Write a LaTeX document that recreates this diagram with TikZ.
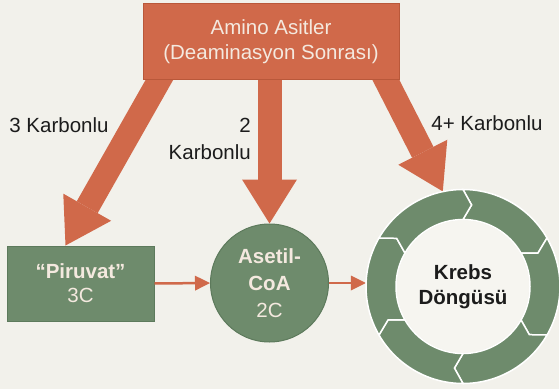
\documentclass[tikz,border=0pt]{standalone}
\usepackage{fontspec}
\setmainfont{Liberation Sans}
\usetikzlibrary{positioning,arrows.meta,calc,backgrounds}

% COLORS
\definecolor{bgcolor}{HTML}{F2F1EB}
\definecolor{orangefill}{HTML}{D0694A}
\definecolor{orangeline}{HTML}{B9583A}
\definecolor{greenfill}{HTML}{6E8B6C}
\definecolor{greenline}{HTML}{5D7A5C}
\definecolor{creamtext}{HTML}{F4E9DF}
\definecolor{innerfill}{HTML}{F6F5F0}
\definecolor{labeltext}{HTML}{1C1C1C}

% STYLES
\tikzset{
  bigfont/.style={font=\fontsize{20.5}{25}\selectfont},
  sourcebox/.style={rectangle, fill=orangefill, draw=orangeline, line width=1pt,
    minimum width=256pt, minimum height=76pt, text=creamtext, align=center, bigfont},
  stepbox/.style={rectangle, fill=greenfill, draw=greenline, line width=1pt,
    minimum width=147pt, minimum height=75pt, text=creamtext, align=center,
    font=\fontsize{20.5}{24}\selectfont},
  stepcircle/.style={circle, fill=greenfill, draw=greenline, line width=1pt,
    minimum size=118pt, inner sep=0pt, text=creamtext, align=center,
    font=\fontsize{20.5}{27}\selectfont},
  fatarrow/.style={line width=24pt, orangefill,
    -{Triangle[width=55pt,length=44pt,line width=0pt]}},
  thinarrow/.style={line width=2.5pt, orangefill,
    -{Triangle[width=15pt,length=15pt,line width=0pt]}},
  ringseg/.style={fill=greenfill, draw=white, line width=1.5pt, line join=miter},
  carbonlabel/.style={text=labeltext, bigfont, inner sep=0pt},
}

\begin{document}
\begin{tikzpicture}[x=1pt,y=1pt]

  \useasboundingbox (0,0) rectangle (559,389);

  % NODES
  \node[sourcebox] (amino) at (271,347) {Amino Asitler\\(Deaminasyon Sonrası)};
  \node[stepbox] (piruvat) at (80.5,105.5) {\textbf{“Piruvat”}\\3C};
  \node[stepcircle] (asetil) at (269.5,106) {\textbf{Asetil-}\\\textbf{CoA}\\2C};
  \node[circle, minimum size=194pt, inner sep=0pt] (krebs) at (463,102.5) {};

  % LABELS
  \node[carbonlabel] (lbl3) at (59,264) {3 Karbonlu};
  \node[carbonlabel, align=right, anchor=east, font=\fontsize{20.5}{26.5}\selectfont]
    (lbl2) at (251,250) {2\\Karbonlu};
  \node[carbonlabel] (lbl4) at (487,266) {4+ Karbonlu};

  % FAT ARROWS (behind the top box)
  \begin{scope}[on background layer]
    \fill[bgcolor] (0,0) rectangle (559,389);
    \draw[fatarrow] ($(amino.south)+(-104,14)$) -- ($(piruvat.north)+(-15,0)$);
    \draw[fatarrow] (asetil.north |- amino.center) -- (asetil.north);
    \draw[fatarrow] ($(amino.south)+(108,14)$) -- (krebs.102);
  \end{scope}

  % THIN ARROWS
  \draw[thinarrow] (piruvat.east) -- (asetil.west);
  \draw[thinarrow] (asetil.east) -- (asetil.east -| krebs.west);

  % KREBS RING
  \foreach \a in {90,30,-30,-90,-150,-210} {
    \draw[ringseg] ($(krebs.center)+(\a:97pt)$)
      arc[start angle=\a, end angle=\a-60, radius=97pt]
      -- ($(krebs.center)+({\a-66}:82pt)$)
      -- ($(krebs.center)+({\a-60}:67pt)$)
      arc[start angle=\a-60, end angle=\a, radius=67pt]
      -- ($(krebs.center)+({\a-6}:82pt)$) -- cycle;
  }
  \node[circle, fill=innerfill, minimum size=132pt, inner sep=0pt, align=center,
    text=labeltext, font=\bfseries\fontsize{20.5}{25.5}\selectfont]
    (krebstext) at (krebs.center) {Krebs\\Döngüsü};

\end{tikzpicture}
\end{document}
